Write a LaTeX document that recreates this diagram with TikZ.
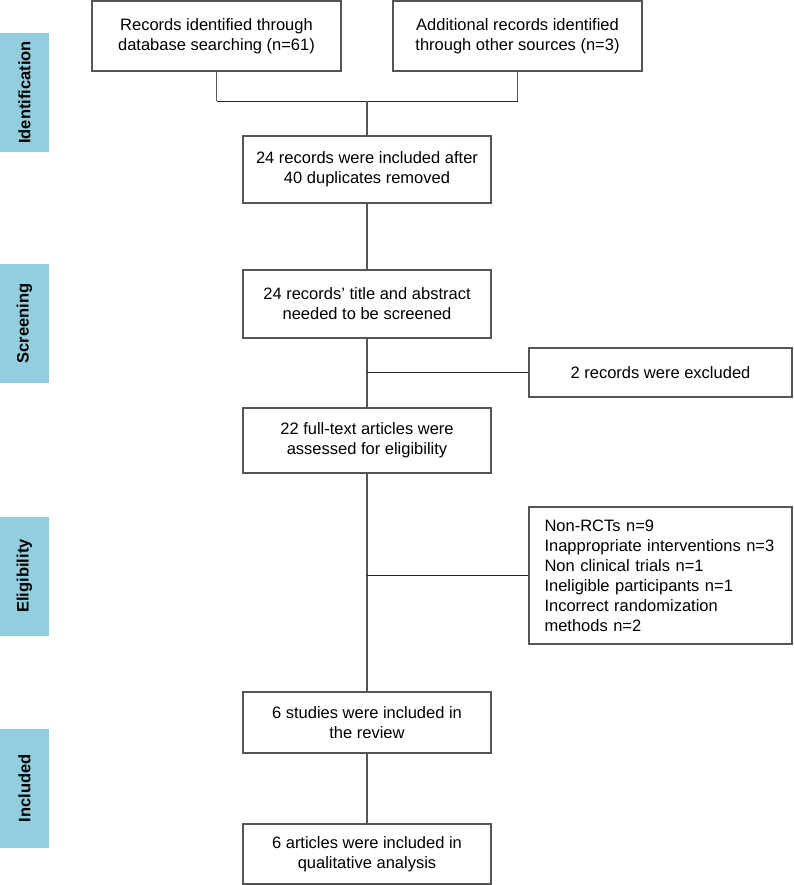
\documentclass[tikz,border=0pt]{standalone}
\usepackage{fontspec}
\setmainfont{Liberation Sans}
\definecolor{tabblue}{RGB}{147,206,222}
\definecolor{edgegray}{RGB}{85,85,85}
\begin{document}
\begin{tikzpicture}[x=1pt,y=-1pt,
  box/.style={draw=edgegray,line width=1.1pt,rectangle,minimum width=248pt,align=center,inner sep=0pt,font=\fontsize{16.5}{20}\selectfont},
  sidebox/.style={draw=edgegray,line width=1.1pt,rectangle,minimum width=263pt,inner sep=0pt,font=\fontsize{16.5}{20}\selectfont},
  stagetab/.style={fill=tabblue,rectangle,minimum width=119pt,minimum height=49pt,rotate=90,inner sep=0pt,font=\fontsize{16.5}{20}\selectfont\bfseries},
  link/.style={draw=edgegray,line width=1.1pt},
  branch/.style={draw=black!85,line width=0.8pt}]
\useasboundingbox (0,0) rectangle (793,885);

% Stage tabs
\node[stagetab] (ident) at (24.5,92.5) {Identification};
\node[stagetab] (screening) at (24.5,323.5) {Screening};
\node[stagetab] (elig) at (24.5,576) {Eligibility};
\node[stagetab] (incl) at (24.5,788.5) {Included};

% Source records
\node[box,minimum width=249pt,minimum height=70pt] (dbsearch) at (216.5,36) {Records identified through\\database searching (n=61)};
\node[box,minimum width=249pt,minimum height=70pt] (othersrc) at (517.5,36) {Additional records identified\\through other sources (n=3)};

% Main flow
\node[box,minimum height=67pt] (dedup) at (367,169.5) {24 records were included after\\40 duplicates removed};
\node[box,minimum height=68pt] (titleabs) at (367,304) {24 records' title and abstract\\needed to be screened};
\node[box,minimum height=65pt] (fulltext) at (367,440.5) {22 full-text articles were\\assessed for eligibility};
\node[box,minimum height=61pt] (review) at (367,722.5) {6 studies were included in\\the review};
\node[box,minimum height=60pt] (qual) at (367,854) {6 articles were included in\\qualitative analysis};

% Exclusions
\node[sidebox,minimum height=49pt] (excl1) at (660.5,372.5) {2 records were excluded};
\node[sidebox,minimum height=137pt,text width=232pt,inner xsep=15.5pt,align=left] (excl2) at (660.5,575.5) {Non-RCTs n=9\\Inappropriate interventions n=3\\Non clinical trials n=1\\Ineligible participants n=1\\Incorrect randomization\\methods n=2};

% Connections
\coordinate (merge) at (dedup.north |- 0,101);
\draw[link] (dbsearch.south) -- (dbsearch.south |- merge);
\draw[link] (othersrc.south) -- (othersrc.south |- merge);
\draw[branch] (dbsearch.south |- merge) -- (othersrc.south |- merge);
\draw[link] (merge) -- (dedup.north);
\draw[link] (dedup) -- (titleabs);
\draw[link] (titleabs) -- (fulltext);
\draw[link] (fulltext) -- (review);
\draw[link] (review) -- (qual);
\draw[branch] (titleabs.south |- excl1.west) -- (excl1.west);
\draw[branch] (fulltext.south |- excl2.west) -- (excl2.west);
\end{tikzpicture}
\end{document}
